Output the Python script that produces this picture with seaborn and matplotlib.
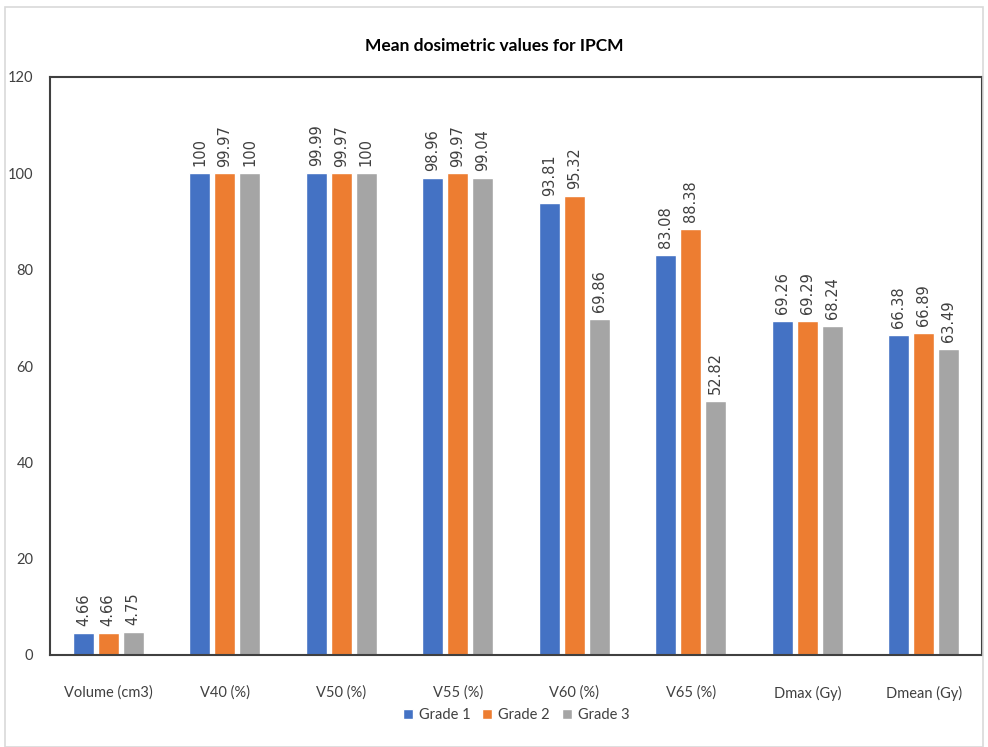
import pandas as pd
import matplotlib.pyplot as plt
import seaborn as sns

# --- data ---
categories = ['Volume (cm3)', 'V40 (%)', 'V50 (%)', 'V55 (%)', 'V60 (%)',
              'V65 (%)', 'Dmax (Gy)', 'Dmean (Gy)']
grade_1 = [4.66, 100, 99.99, 98.96, 93.81, 83.08, 69.26, 66.38]
grade_2 = [4.66, 99.97, 99.97, 99.97, 95.32, 88.38, 69.29, 66.89]
grade_3 = [4.75, 100, 100, 99.04, 69.86, 52.82, 68.24, 63.49]
groups = ['Grade 1', 'Grade 2', 'Grade 3']
colors = ['#4472C4', '#ED7D31', '#A5A5A5']
y_ticks = [0, 20, 40, 60, 80, 100, 120]

df = pd.DataFrame({'Parameter': categories * 3,
                   'Value': grade_1 + grade_2 + grade_3,
                   'Grade': [g for g in groups for _ in categories]})

sns.set_style('white')
plt.rcParams['font.family'] = ['Lato', 'DejaVu Sans']

fig = plt.figure(figsize=(9.88, 7.47), dpi=100)
ax = fig.add_axes([50 / 988, 1 - 655 / 747, 932 / 988, 578 / 747])

sns.barplot(data=df, x='Parameter', y='Value', hue='Grade', palette=colors,
            saturation=1, width=0.64, gap=0.16, ax=ax, legend=True)

# value labels, rotated like the reference
for cont in ax.containers:
    labels = ax.bar_label(cont, labels=[f'{v:g}' for v in cont.datavalues],
                          rotation=90, padding=5, fontsize=10.5, color='#404040')
    for t in labels:
        t.set_fontfamily(['DejaVu Sans'])

ax.set_ylim(0, 120)
ax.set_yticks(y_ticks)
ax.set_xlim(-0.5, len(categories) - 0.5)
ax.set_xlabel('')
ax.set_ylabel('')
ax.tick_params(axis='both', length=0, labelsize=10.5, colors='#404040')
ax.tick_params(axis='x', pad=22)
ax.tick_params(axis='y', pad=12)
for s in ax.spines.values():
    s.set_color('#404040')
    s.set_linewidth(1.5)

fig.suptitle('Mean dosimetric values for IPCM', y=1 - 38 / 747,
             fontsize=12.5, fontweight='bold', color='black')

leg = ax.legend(loc='center', bbox_to_anchor=(0.5, -0.104), ncol=3,
                frameon=False, fontsize=10.5, handlelength=0.7, handleheight=0.7,
                handletextpad=0.4, columnspacing=0.8)
for t in leg.get_texts():
    t.set_color('#404040')

# light border around the whole picture
fig.patches.append(plt.Rectangle((0.005, 0.0), 0.99, 0.99, transform=fig.transFigure,
                                 fill=False, edgecolor='#D9D9D9', linewidth=1.2))

fig.savefig('out.png', dpi=100)
